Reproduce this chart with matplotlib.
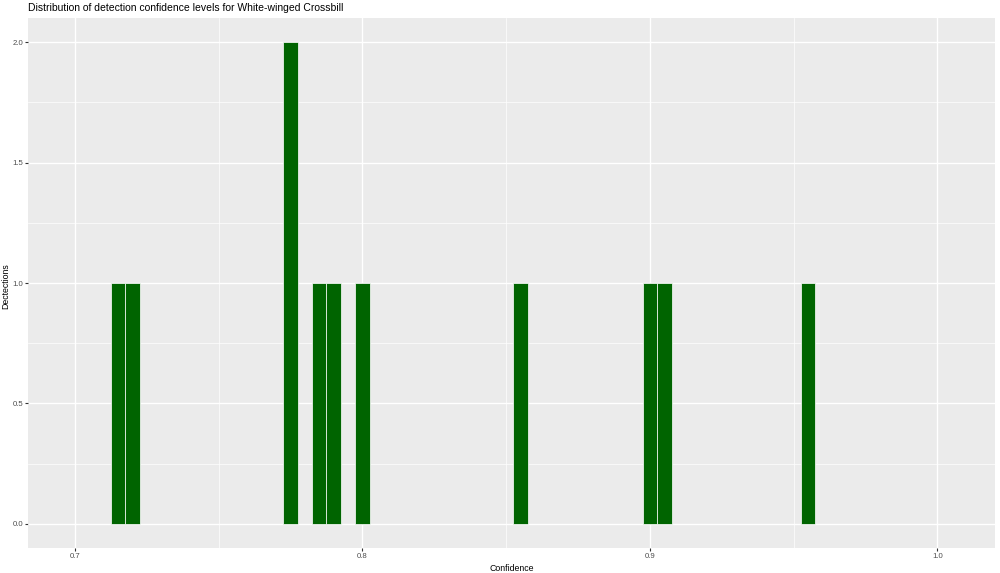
import numpy as np
import matplotlib
matplotlib.use("Agg")
import matplotlib.pyplot as plt

# Detection confidence values (binwidth 0.005)
confidence = [0.715, 0.72, 0.775, 0.775, 0.785, 0.79, 0.80, 0.855, 0.90, 0.905, 0.955]
binwidth = 0.005
x_ticks = [0.7, 0.8, 0.9, 1.0]
x_tick_labels = ["0.7", "0.8", "0.9", "1.0"]
y_ticks = [0.0, 0.5, 1.0, 1.5, 2.0]
y_tick_labels = ["0.0", "0.5", "1.0", "1.5", "2.0"]
title = "Distribution of detection confidence levels for White-winged Crossbill"

plt.rcParams['font.family'] = ['Liberation Sans', 'DejaVu Sans']

fig = plt.figure(figsize=(10, 5.73), dpi=100)
ax = fig.add_axes([0.028, 0.0436, 0.967, 0.925])
ax.set_facecolor('#EBEBEB')

edges = np.arange(0.7125 - binwidth * 10, 1.0 + binwidth, binwidth)
ax.hist(confidence, bins=edges, color='#006400', edgecolor='white', linewidth=0.5, zorder=3)

ax.set_xlim(0.6837, 1.0200)
ax.set_ylim(-0.1, 2.1)

ax.set_xticks(x_ticks)
ax.set_xticklabels(x_tick_labels)
ax.set_yticks(y_ticks)
ax.set_yticklabels(y_tick_labels)
ax.set_xticks([0.75, 0.85, 0.95], minor=True)
ax.set_yticks([0.25, 0.75, 1.25, 1.75], minor=True)

ax.grid(which='major', color='white', linewidth=1.0, zorder=0)
ax.grid(which='minor', color='white', linewidth=0.5, zorder=0)
ax.set_axisbelow(True)
for s in ax.spines.values():
    s.set_visible(False)

ax.tick_params(which='major', length=2.0, width=0.8, color='#333333', labelsize=5.6, labelcolor='#4D4D4D', pad=1.5)
ax.tick_params(which='minor', length=0)

ax.set_xlabel("Confidence", fontsize=6.3, labelpad=3)
fig.text(0.001, 0.5, "Dectections", rotation=90, fontsize=6.3, ha='left', va='center')
ax.set_title(title, fontsize=7.5, loc='left', pad=5)

fig.savefig("out.png", dpi=100)
